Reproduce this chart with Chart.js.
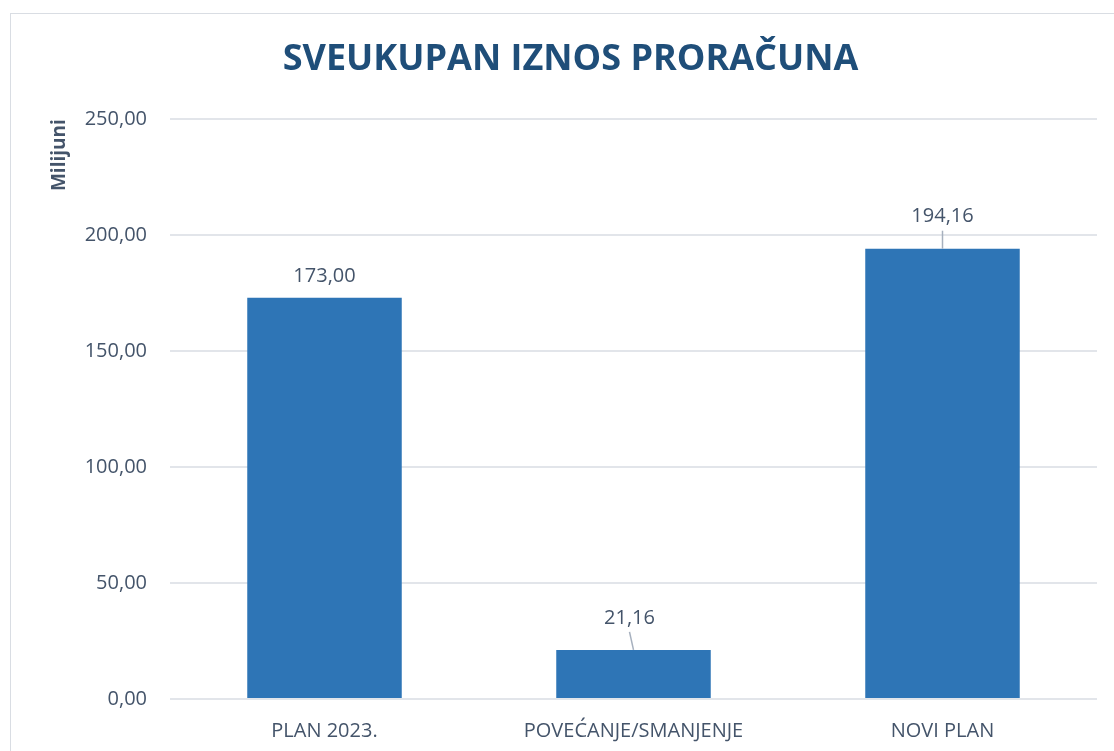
<!DOCTYPE html>
<html>
<head>
<meta charset="utf-8">
<script src="https://cdn.jsdelivr.net/npm/chart.js@4/dist/chart.umd.min.js"></script>
<style>
  html, body { margin: 0; padding: 0; background: #fff; }
  #wrap { position: relative; width: 1114px; height: 751px; overflow: hidden; }
  #frame {
    position: absolute; left: 10px; top: 13px; width: 1200px; height: 800px;
    border: 1px solid #D9DDE3; box-sizing: border-box;
  }
  canvas { position: absolute; left: 0; top: 0; }
</style>
</head>
<body>
<div id="wrap">
  <div id="frame"></div>
  <canvas id="chart" width="1114" height="751"></canvas>
</div>
<script>
// chart data
const categories = ['PLAN 2023.', 'POVEĆANJE/SMANJENJE', 'NOVI PLAN'];
const values = [173.00, 21.16, 194.16];
const yTicks = [0, 50, 100, 150, 200, 250];

const textColor = '#44546A';
const fontFamily = '"Open Sans", "Noto Sans", sans-serif';

const fmt = (v) => v.toFixed(2).replace('.', ',');

// value labels above the bars, with a thin leader line when lifted
const barLabels = {
  id: 'barLabels',
  afterDatasetsDraw(chart, args, opts) {
    const { ctx } = chart;
    const meta = chart.getDatasetMeta(0);
    ctx.save();
    ctx.font = `20px ${fontFamily}`;
    ctx.fillStyle = textColor;
    ctx.textAlign = 'center';
    ctx.textBaseline = 'middle';
    meta.data.forEach((bar, i) => {
      const lift = opts.lift[i];
      const dx = opts.shift[i];
      const ty = bar.y - lift;
      ctx.fillText(fmt(values[i]), bar.x + dx, ty);
      if (lift > 25) {
        ctx.strokeStyle = '#A6B0BE';
        ctx.lineWidth = 1.5;
        ctx.beginPath();
        ctx.moveTo(bar.x + dx, ty + 14);
        ctx.lineTo(bar.x, bar.y);
        ctx.stroke();
      }
    });
    ctx.restore();
  },
};

new Chart(document.getElementById('chart'), {
  type: 'bar',
  data: {
    labels: categories,
    datasets: [{
      data: values,
      backgroundColor: '#2E75B6',
      borderWidth: 0,
      categoryPercentage: 1,
      barPercentage: 0.5,
    }],
  },
  options: {
    responsive: false,
    animation: false,
    layout: { padding: { left: 44, right: 17, top: 22, bottom: 0 } },
    plugins: {
      legend: { display: false },
      tooltip: { enabled: false },
      title: {
        display: true,
        text: 'SVEUKUPAN IZNOS PRORAČUNA',
        color: '#1F4E79',
        font: { family: fontFamily, size: 36, weight: 'bold' },
        padding: { top: 16, bottom: 38 },
      },
      barLabels: { lift: [21, 32, 32], shift: [0, -4, 0] },
    },
    scales: {
      x: {
        grid: { display: false },
        border: { display: false },
        ticks: {
          color: textColor,
          font: { family: fontFamily, size: 20 },
          padding: 12,
        },
        afterFit: (s) => { s.height = 52; },
      },
      y: {
        min: 0,
        max: 250,
        afterBuildTicks: (s) => { s.ticks = yTicks.map((v) => ({ value: v })); },
        grid: { color: '#E2E5EA', lineWidth: 2, drawTicks: false },
        border: { display: false },
        ticks: {
          color: textColor,
          font: { family: fontFamily, size: 20 },
          padding: 23,
          callback: (v) => fmt(v),
        },
        title: {
          display: true,
          text: 'Milijuni',
          align: 'end',
          color: textColor,
          font: { family: fontFamily, size: 19, weight: 'bold' },
          padding: { bottom: 4 },
        },
        afterFit: (s) => { s.width = 126; },
      },
    },
  },
  plugins: [barLabels],
});
</script>
</body>
</html>
